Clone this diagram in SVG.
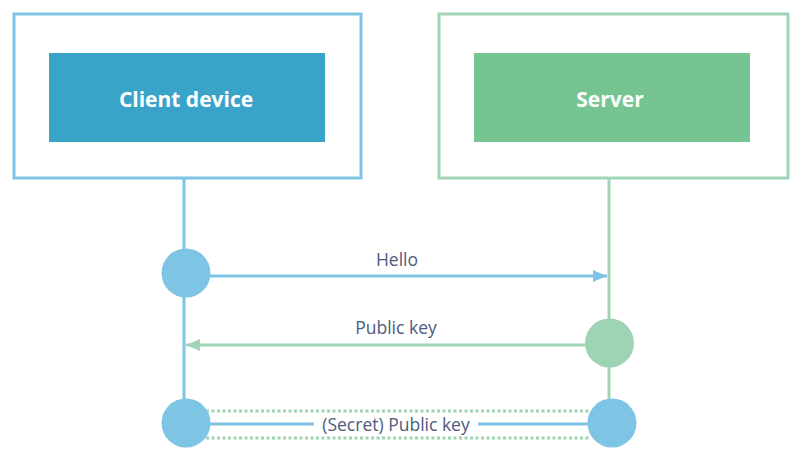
<svg xmlns="http://www.w3.org/2000/svg" width="803" height="460" viewBox="0 0 803 460">
<defs>
<style>
.outer{fill:#fff;stroke-width:3}
.lbl{font-family:"Open Sans","Liberation Sans",sans-serif;font-size:17.5px;fill:#4d5b7c;text-anchor:middle}
.title{font-family:"Open Sans","Liberation Sans",sans-serif;font-size:21px;font-weight:bold;fill:#fff;text-anchor:middle}
.blue{stroke:#7ec4e4}
.green{stroke:#a0d5b6}
.dot{stroke:#9fd4b3;stroke-width:3;stroke-dasharray:3 2.5;fill:none}
</style>
<marker id="ab" viewBox="0 0 14 12" refX="14" refY="6" markerWidth="14" markerHeight="12" markerUnits="userSpaceOnUse" orient="auto">
<path d="M0,0 L14,6 L0,12 z" fill="#7ec4e4"/>
</marker>
<marker id="ag" viewBox="0 0 14 12" refX="14" refY="6" markerWidth="14" markerHeight="12" markerUnits="userSpaceOnUse" orient="auto">
<path d="M0,0 L14,6 L0,12 z" fill="#a0d5b6"/>
</marker>
</defs>
<rect width="803" height="460" fill="#fff"/>
<g id="client">
<rect class="outer blue" x="14" y="14" width="347" height="164"/>
<rect x="49" y="53" width="276" height="89" fill="#3aa3c8"/>
<text class="title" x="186" y="107">Client device</text>
</g>
<g id="server">
<rect class="outer green" x="439" y="14" width="349" height="164"/>
<rect x="474" y="53" width="276" height="89" fill="#76c491"/>
<text class="title" x="610" y="107">Server</text>
</g>
<g id="connectors" fill="none" stroke-width="3">
<line class="blue" x1="184" y1="178" x2="184" y2="423"/>
<line class="green" x1="609" y1="178" x2="609" y2="423"/>
<line class="blue" x1="186" y1="276" x2="607" y2="276" marker-end="url(#ab)"/>
<line class="green" x1="609" y1="345" x2="186" y2="345" marker-end="url(#ag)"/>
<line class="dot" x1="206" y1="411" x2="590" y2="411"/>
<line class="dot" x1="206" y1="438" x2="590" y2="438"/>
<line class="blue" x1="206" y1="424" x2="314" y2="424"/>
<line class="blue" x1="478" y1="424" x2="590" y2="424"/>
</g>
<g id="dot-c1"><circle cx="186" cy="273" r="24.5" fill="#7ec4e4"/></g>
<g id="dot-s1"><circle cx="609.5" cy="343" r="24.5" fill="#9ed3b3"/></g>
<g id="dot-c2"><circle cx="186" cy="423" r="24.5" fill="#7ec4e4"/></g>
<g id="dot-s2"><circle cx="612" cy="423" r="24.5" fill="#7ec4e4"/></g>
<g id="labels">
<text class="lbl" x="397" y="266">Hello</text>
<text class="lbl" x="396" y="334">Public key</text>
<text class="lbl" x="396" y="431">(Secret) Public key</text>
</g>
</svg>
